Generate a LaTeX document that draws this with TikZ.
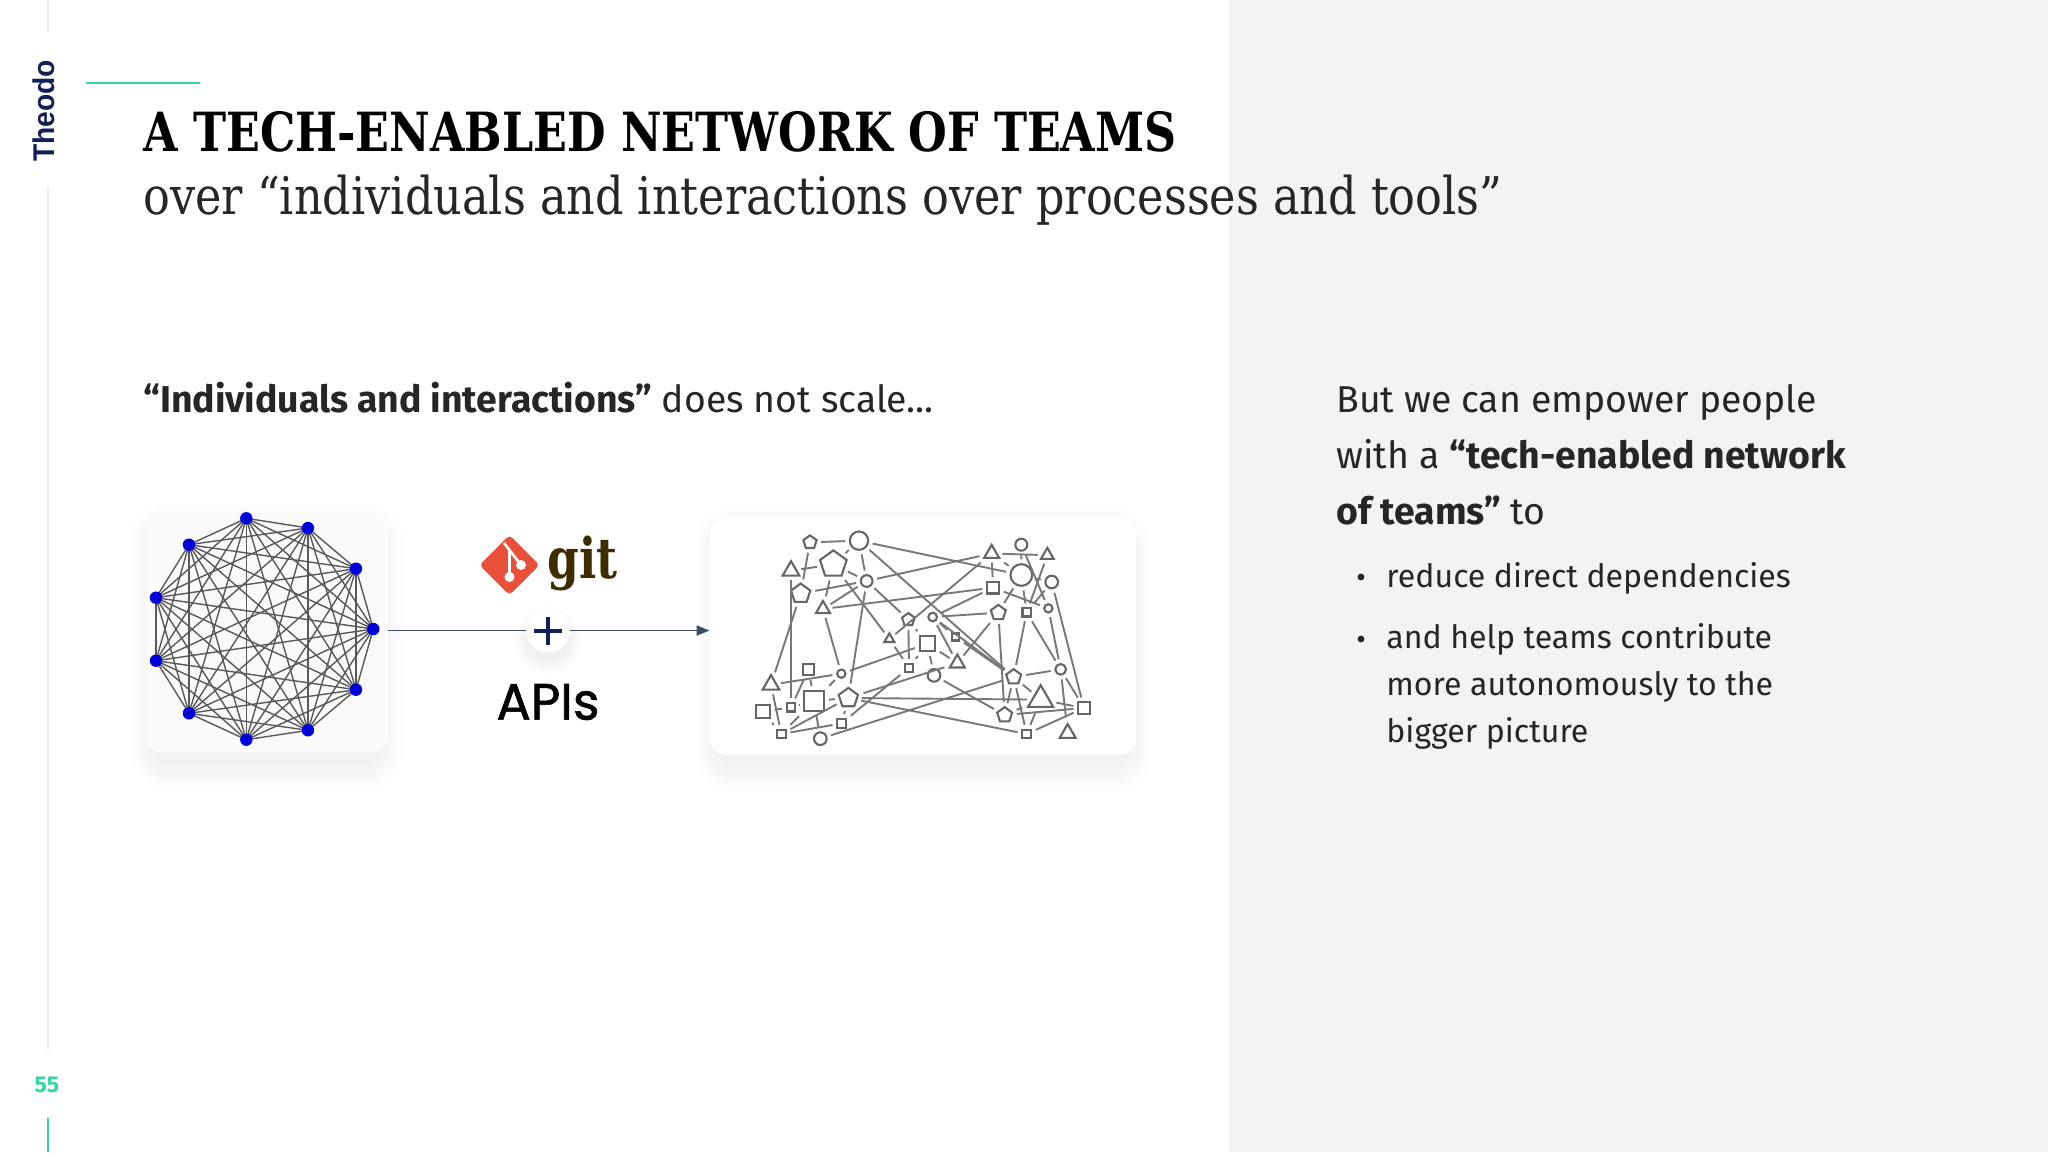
\documentclass[tikz,border=0pt]{standalone}
\usepackage{fontspec}
\usetikzlibrary{shapes.geometric,arrows.meta}
\setmainfont{Fira Sans}
\newfontfamily\titlefont{DejaVu Serif Condensed}[FakeStretch=0.952,BoldFont={DejaVu Serif Condensed Bold},BoldFeatures={FakeStretch=0.914}]
\newfontfamily\apifont{Poppins}[FakeBold=1.2]
\newfontfamily\logofont{Liberation Sans Bold}[FakeStretch=0.94]
\newfontfamily\gitfont{DejaVu Serif Condensed Bold}[FakeStretch=0.9]
\definecolor{navy}{HTML}{12205A}
\definecolor{mint}{HTML}{34D6A4}
\definecolor{panel}{HTML}{F3F3F3}
\definecolor{rail}{HTML}{EDEDED}
\definecolor{netgrey}{HTML}{787878}
\definecolor{arrowc}{HTML}{3C4F68}
\definecolor{gitred}{HTML}{E9503A}
\definecolor{gitbrown}{HTML}{3E2C00}
\tikzset{
  body/.style={anchor=base west,inner sep=0pt,font=\fontsize{18.7}{22}\selectfont,text=black!85},
  small/.style={anchor=base west,inner sep=0pt,font=\fontsize{16.05}{20}\selectfont,text=black!85},
  gdot/.style={circle,fill=blue!85!black,inner sep=0pt,minimum size=6.2pt},
  gedge/.style={draw=black!65,line width=0.7pt},
  netbase/.style={draw=netgrey!85!black,line width=1.05pt,inner sep=0pt,outer sep=2.4pt,fill=none},
  ncirc/.style={netbase,circle,minimum size={#1/6*1pt}},
  nsq/.style={netbase,rectangle,minimum size={#1/6*1pt}},
  ntri/.style={netbase,regular polygon,regular polygon sides=3,minimum size={#1*1.155/6*1pt},yshift={-#1*0.024pt}},
  npent/.style={netbase,regular polygon,regular polygon sides=5,minimum size={#1*1.05/6*1pt}},
  nedge/.style={draw=netgrey,line width=0.95pt},
}
\begin{document}
\begin{tikzpicture}[x=0.5pt,y=-0.5pt]
\useasboundingbox (0,0) rectangle (2048,1152);
\fill[white] (0,0) rectangle (2048,1152);
\fill[panel] (1229,0) rectangle (2048,1152);
% rail
\draw[rail,line width=1pt] (48,0) -- (48,32);
\draw[rail,line width=1pt] (48,188) -- (48,1050);
\draw[mint,line width=1pt] (48,1118) -- (48,1152);
\draw[mint,line width=1pt] (86,83) -- (200,83);
\node[rotate=90,inner sep=0pt,text=navy,font=\logofont\fontsize{15}{16}\selectfont] (logo) at (44,111) {Theodo};
\node[inner sep=0pt,text=mint,font=\bfseries\fontsize{11.5}{12}\selectfont] (pagenum) at (47,1085) {55};
% title
\node[anchor=base west,inner sep=0pt,font=\titlefont\bfseries\fontsize{27}{30}\selectfont] (title) at (143,151) {A TECH-ENABLED NETWORK OF TEAMS};
\node[anchor=base west,inner sep=0pt,font=\titlefont\fontsize{26}{30}\selectfont,text=black!85] (subtitle) at (143,214) {over “individuals and interactions over processes and tools”};
% texts
\node[body] (lead) at (143,412) {\textbf{“Individuals and interactions”} does not scale...};
\node[body] (r1) at (1336,412) {But we can empower people};
\node[body] (r2) at (1336,468) {with a \textbf{“tech-enabled network}};
\node[body] (r3) at (1336,524) {\textbf{of teams”} to};
\node[small] (b1) at (1386,587) {reduce direct dependencies};
\node[small] (b2) at (1386,648) {and help teams contribute};
\node[small] (b3) at (1386,695) {more autonomously to the};
\node[small] (b4) at (1386,742) {bigger picture};
\fill[black!85] (1361,577) circle (3.4);
\fill[black!85] (1361,639) circle (3.4);
% card shadows
\foreach \d in {0,2,...,26}{
  \fill[black,opacity=0.0035,rounded corners={(7+\d/2)*1pt}] (155-\d,512+16-\d) rectangle (378+\d,752+12+\d);
  \fill[black,opacity=0.005,rounded corners={(7+\d/2)*1pt}] (720-\d,517+16-\d) rectangle (1126+\d,755+12+\d);
}
\node[draw=none,fill=black!2,rounded corners=7pt,minimum width=121.5pt,minimum height=120pt,inner sep=0pt] (lcard) at (266.5,632) {};
\node[draw=none,fill=white,rounded corners=8pt,minimum width=213pt,minimum height=119pt,inner sep=0pt] (rcard) at (923,636) {};
% complete graph
\coordinate (gp1) at (246.3,518.3);
\coordinate (gp2) at (308,528);
\coordinate (gp3) at (356,568.7);
\coordinate (gp4) at (373.3,629);
\coordinate (gp5) at (356,689.7);
\coordinate (gp6) at (308,730.3);
\coordinate (gp7) at (246.3,739.7);
\coordinate (gp8) at (189,713.3);
\coordinate (gp9) at (156,660.7);
\coordinate (gp10) at (156,597.7);
\coordinate (gp11) at (189,544.7);
\foreach \i in {1,...,11}{\foreach \j in {1,...,11}{%
  \ifnum\i<\j \draw[gedge] (gp\i) -- (gp\j);\fi}}
\foreach \i in {1,...,11}{\node[gdot] (g\i) at (gp\i) {};}
% network
\begin{scope}[shift={(700,500)},scale=1/3]
\node[npent=40] (p1) at (330,127) {};
\node[ncirc=55] (c1) at (477,122) {};
\node[ntri=50] (t1) at (273,205) {};
\node[npent=80] (P1) at (400,193) {};
\node[ncirc=35] (c2) at (500,243) {};
\node[npent=58] (P2) at (302,281) {};
\node[ntri=42] (t2) at (369,321) {};
\node[ntri=45] (T3) at (875,154) {};
\node[ncirc=36] (c3) at (964,134) {};
\node[ntri=38] (t4) at (1042,160) {};
\node[ncirc=65] (C4) at (964,225) {};
\node[ncirc=38] (c5) at (1055,246) {};
\node[nsq=35] (s1) at (879,263) {};
\node[ncirc=25] (c6) at (1045,325) {};
\node[nsq=25] (s2) at (980,337) {};
\node[npent=45] (p3) at (895,338) {};
\node[npent=38] (p4) at (625,359) {};
\node[ncirc=26] (c7) at (698,351) {};
\node[ntri=30] (t5) at (568,413) {};
\node[nsq=46] (S3) at (682,431) {};
\node[nsq=21] (s4) at (767,411) {};
\node[ntri=45] (t6) at (772,483) {};
\node[nsq=24] (s5) at (627,503) {};
\node[ncirc=38] (c8) at (702,526) {};
\node[ncirc=25] (c9) at (424,521) {};
\node[nsq=34] (s6) at (326,508) {};
\node[ntri=50] (t7) at (213,547) {};
\node[ncirc=32] (c10) at (1082,508) {};
\node[npent=45] (p5) at (941,531) {};
\node[ntri=75] (T8) at (1022,588) {};
\node[nsq=62] (S7) at (342,603) {};
\node[npent=58] (p6) at (445,594) {};
\node[nsq=25] (s8) at (273,622) {};
\node[nsq=40] (s9) at (189,634) {};
\node[nsq=34] (s10) at (1152,624) {};
\node[npent=45] (p7) at (914,645) {};
\node[nsq=26] (s11) at (425,670) {};
\node[nsq=26] (s12) at (244,702) {};
\node[ncirc=38] (c11) at (361,716) {};
\node[nsq=26] (s13) at (980,702) {};
\node[ntri=48] (t9) at (1103,693) {};
\foreach \a/\b in {p1/c1,p1/P2,c1/P1,c1/c2,c1/C4,c1/p5,t1/P1,t1/s8,P1/c2,P1/t2,P1/t5,P2/c2,P2/t7,t2/c2,t2/s1,t2/c9,c2/T3,c2/p6,c2/p4,T3/t4,T3/s1,T3/C4,T3/t5,c3/C4,c3/c6,t4/s2,C4/c5,C4/s2,C4/p3,s1/c7,s1/c6,c5/s10,c5/s2,c6/c10,s2/c10,s2/p5,p3/c7,p3/t6,p3/p7,p4/S3,p4/s5,c7/s4,c7/t6,c7/p5,s4/p5,S3/c9,S3/c8,S3/s5,S3/t6,t5/s5,p6/t6,s5/s11,c8/p7,c9/t7,c9/S7,s6/s8,s6/S7,t7/s12,S7/s8,s9/s8,s9/s12,S7/s12,p6/S7,p6/s12,p6/s11,p6/T8,p6/s13,c11/S7,c11/p5,s12/s11,p5/c10,p5/T8,p5/p7,p5/s13,c10/s10,c10/t9,T8/s10,T8/p7,T8/s13,p7/s10,s13/s10}{
  \draw[nedge] (\a) -- (\b);
}
\end{scope}
% git logo
\fill[gitred,rounded corners=2pt] (509.5,535) -- (539.5,565) -- (509.5,595) -- (479.5,565) -- cycle;
\draw[white,line width=1.3pt] (504,543) -- (521,565);
\draw[white,line width=1.3pt] (509.5,550) -- (509.5,577);
\fill[white] (509.5,577) circle (5);
\fill[white] (521,565) circle (5);
\node[anchor=base west,inner sep=0pt,text=gitbrown,font=\gitfont\fontsize{28}{30}\selectfont] (git) at (547,578) {git};
% plus + APIs
\foreach \d in {0,2,...,12}{\fill[black,opacity=0.007] (548,640) circle (22+\d);}
\node[circle,fill=white,minimum size=22pt,inner sep=0pt] (plus) at (548,630.5) {};
\draw[navy,line width=2pt] (548,616.5) -- (548,644.5);
\draw[navy,line width=2pt] (534,630.5) -- (562,630.5);
\draw[arrowc,line width=0.9pt] (lcard.east |- plus) -- (plus);
\draw[arrowc,line width=0.9pt,-{Triangle[length=6.5pt,width=5pt]}] (plus) -- (rcard.west |- plus);
\node[inner sep=0pt,font=\apifont\fontsize{25.5}{28}\selectfont,text=black] (apis) at (548,702) {APIs};
\end{tikzpicture}
\end{document}
